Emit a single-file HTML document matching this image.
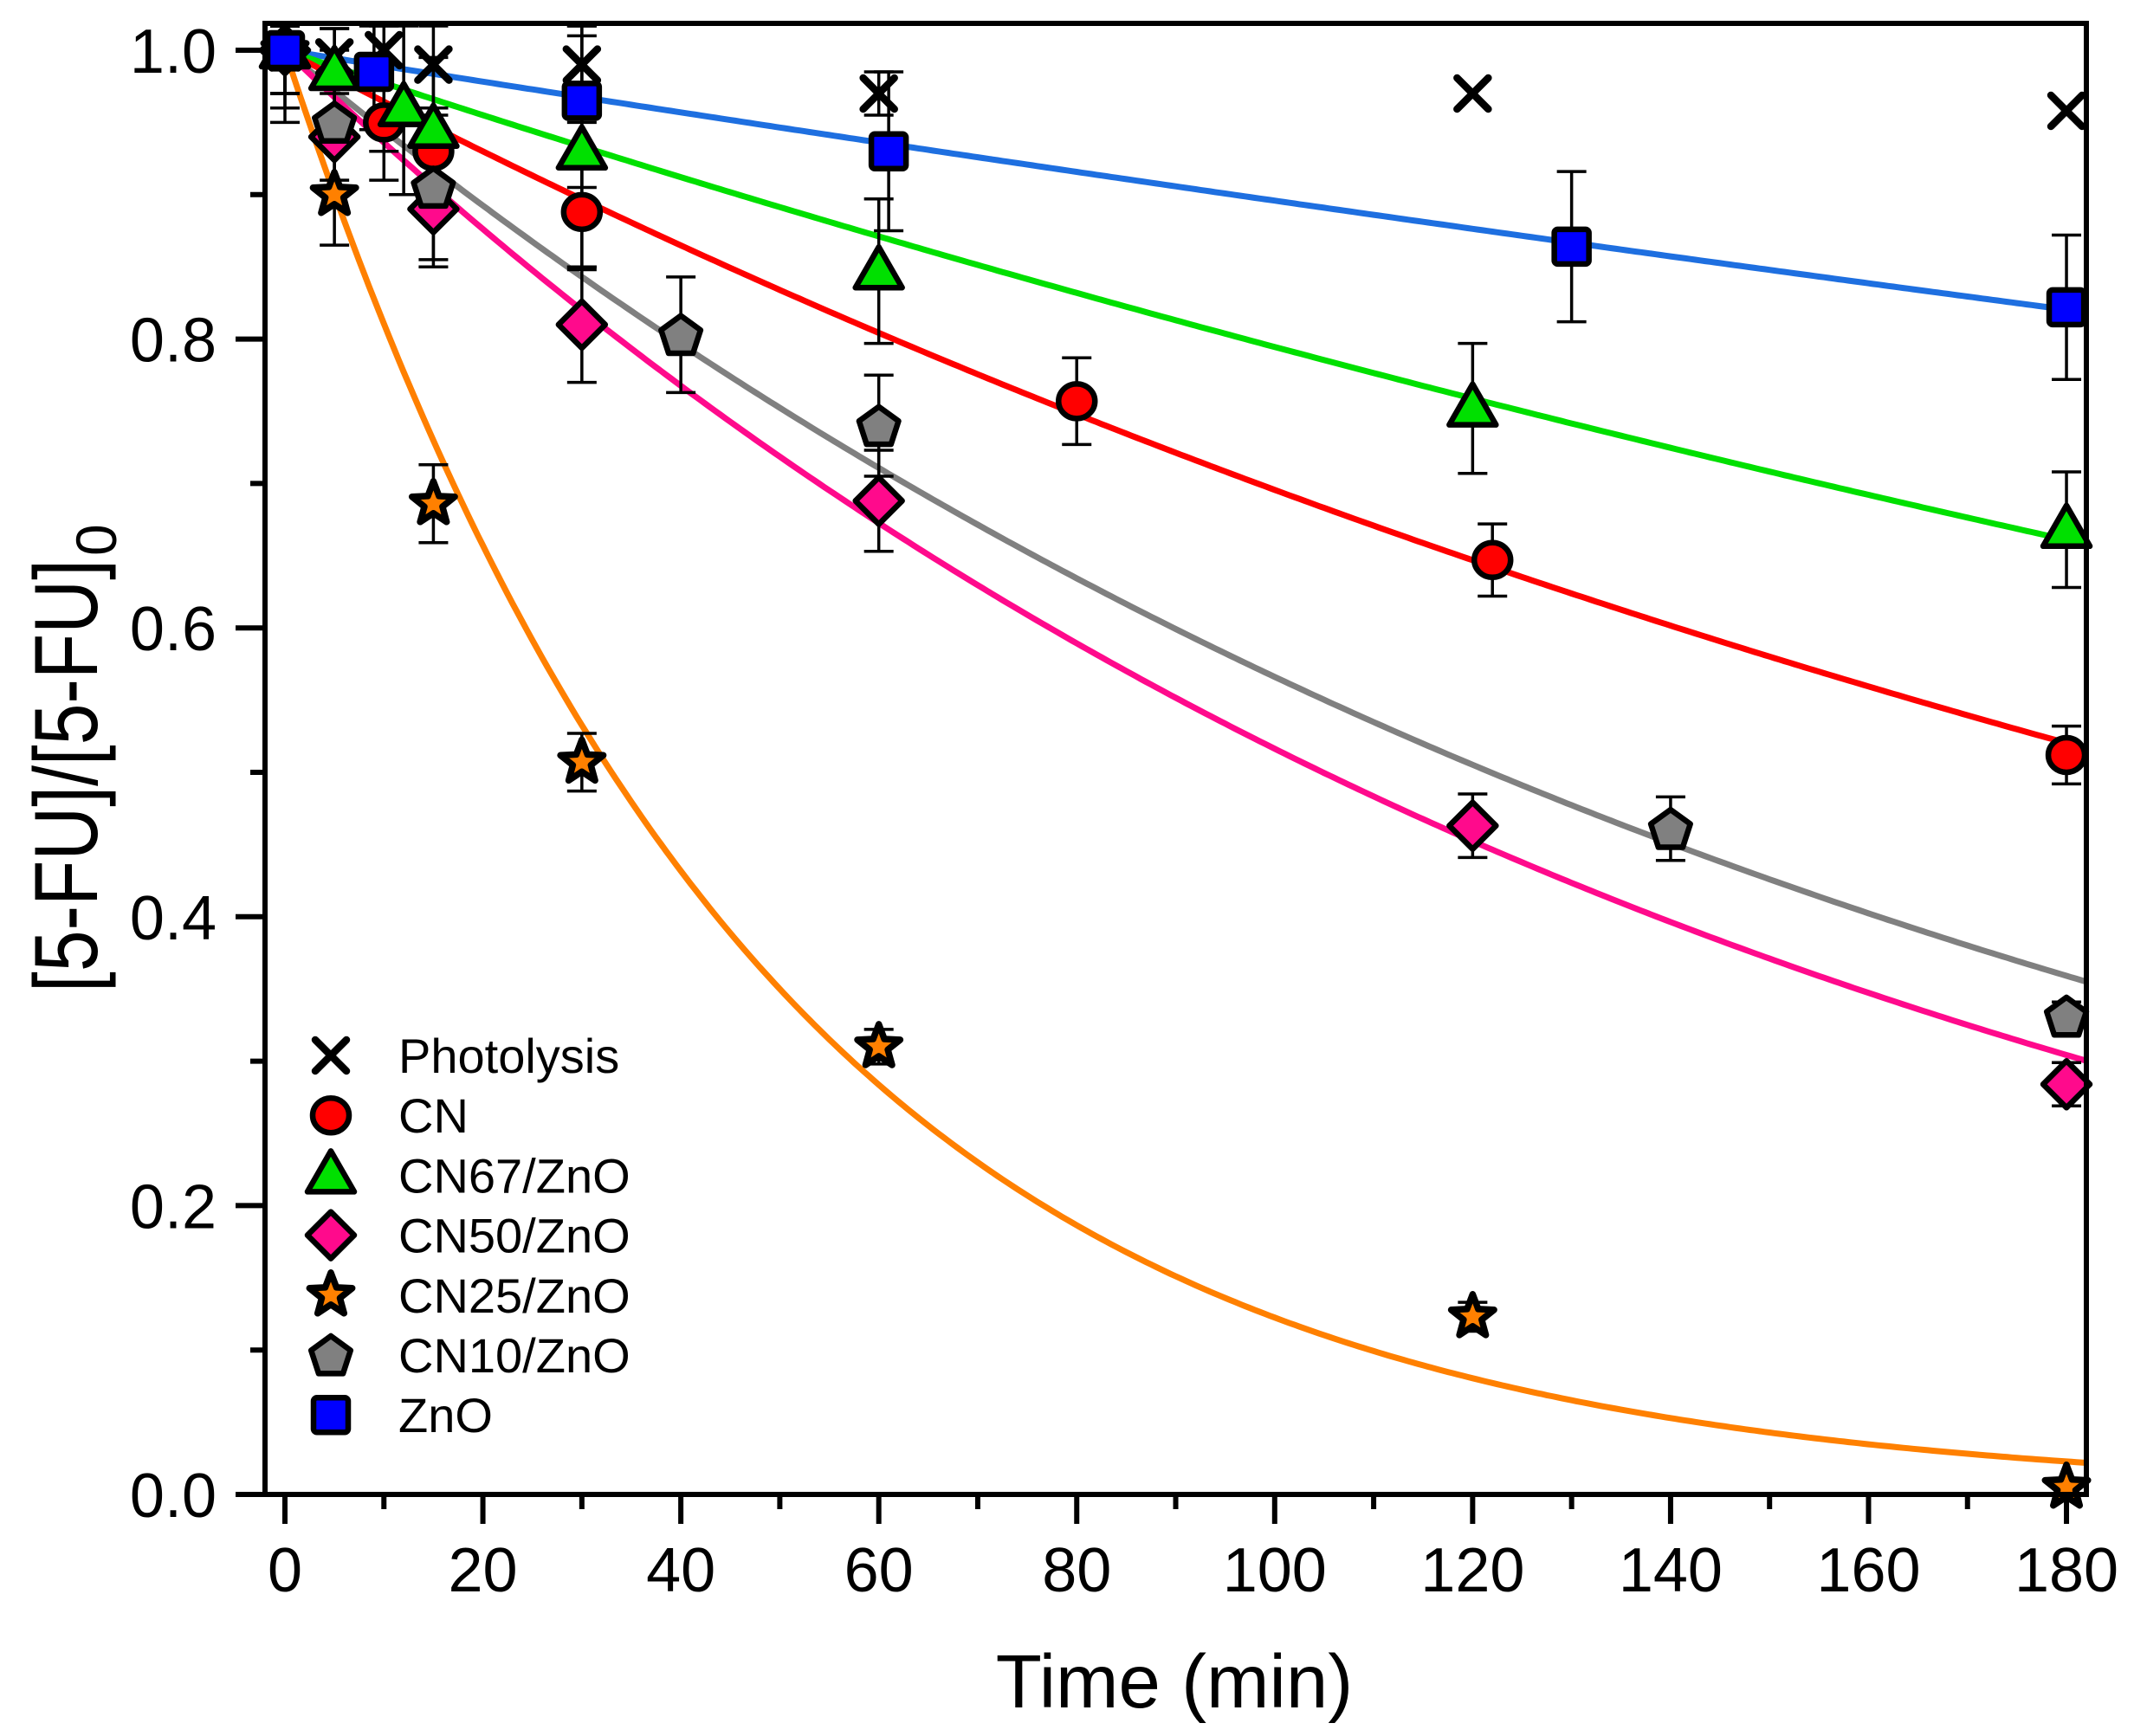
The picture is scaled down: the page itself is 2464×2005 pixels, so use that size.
<!DOCTYPE html>
<html><head><meta charset="utf-8"><style>
html,body{margin:0;padding:0;background:#fff;}
svg{display:block;}
text{font-family:"Liberation Sans",Arial,sans-serif;fill:#000;}
</style></head><body>
<svg id="s" width="2464" height="2005" viewBox="0 0 2464 2005" xmlns="http://www.w3.org/2000/svg">
<rect width="2464" height="2005" fill="#fff"/>
<g id="curves"></g>
<g id="errs"></g>
<g id="marks"></g>
<g id="axes"></g>
<g id="legend"></g>
<text x="1356" y="1972" font-size="87" text-anchor="middle">Time (min)</text>
<g transform="translate(112,1146) rotate(-90)">
<text x="0" y="0" font-size="104" textLength="500" lengthAdjust="spacingAndGlyphs">[5-FU]/[5-FU]</text>
<text x="504" y="22" font-size="66">0</text>
</g>
</svg>
<script>
var NS="http://www.w3.org/2000/svg";
function X(t){return 329+t*11.428;}
function Y(v){return 1726-v*1668;}
function el(p,tag,a){var e=document.createElementNS(NS,tag);for(var k in a)e.setAttribute(k,a[k]);document.getElementById(p).appendChild(e);return e;}
var fits=[["#1e6fe0",0.0011],["#00e000",0.0023],["#ff0000",0.00363],["#808080",0.00569],["#ff0a8c",0.00661],["#ff8000",0.021]];
fits.forEach(function(f){var pts=[];for(var t=0;t<=182.1;t+=0.5){pts.push(X(t).toFixed(1)+","+Y(Math.exp(-f[1]*t)).toFixed(1));}
el("curves","polyline",{points:pts.join(" "),fill:"none",stroke:f[0],"stroke-width":7});});
var S={
x:[[0,1,0.05],[5,0.995,0.02],[10,1.0,0.07],[15,0.99,0.03],[30,0.99,0.04],[60,0.97,0.015],[120,0.97,0],[180,0.958,0]],
o:[[0,1,0.03],[10,0.95,0.04],[15,0.93,0.03],[30,0.888,0.04],[80,0.757,0.03],[122,0.647,0.025],[180,0.512,0.02]],
t:[[0,1,0.04],[5,0.985,0.03],[12,0.96,0.06],[15,0.945,0.05],[30,0.93,0.08],[60,0.847,0.05],[120,0.752,0.045],[180,0.668,0.04]],
d:[[0,1,0.03],[5,0.94,0.03],[15,0.89,0.04],[30,0.81,0.04],[60,0.688,0.035],[120,0.463,0.022],[180,0.284,0.015]],
s:[[0,1,0.03],[5,0.9,0.035],[15,0.686,0.027],[30,0.507,0.02],[60,0.31,0.012],[120,0.123,0.01],[180,0.005,0.005]],
p:[[0,1,0.03],[5,0.95,0.05],[15,0.905,0.05],[40,0.803,0.04],[60,0.74,0.035],[140,0.461,0.022],[180,0.331,0.01]],
q:[[0,1,0.03],[9,0.985,0.04],[30,0.965,0.06],[61,0.93,0.055],[130,0.864,0.052],[180,0.822,0.05]]
};
function marker(g,type,cx,cy){
 var sw=6.5;
 if(type=="x"){var r=18;el(g,"path",{d:"M"+(cx-r)+","+(cy-r)+"L"+(cx+r)+","+(cy+r)+"M"+(cx-r)+","+(cy+r)+"L"+(cx+r)+","+(cy-r),stroke:"#000","stroke-width":8.5,"stroke-linecap":"round"});}
 else if(type=="o"){el(g,"ellipse",{cx:cx,cy:cy,rx:21,ry:20,fill:"#ff0000",stroke:"#000","stroke-width":sw});}
 else if(type=="t"){el(g,"polygon",{points:cx+","+(cy-28)+" "+(cx+27)+","+(cy+19)+" "+(cx-27)+","+(cy+19),fill:"#00e000",stroke:"#000","stroke-width":sw,"stroke-linejoin":"round"});}
 else if(type=="d"){el(g,"polygon",{points:cx+","+(cy-27)+" "+(cx+27)+","+cy+" "+cx+","+(cy+27)+" "+(cx-27)+","+cy,fill:"#ff0a8c",stroke:"#000","stroke-width":sw,"stroke-linejoin":"round"});}
 else if(type=="s"){var p=[];for(var i=0;i<10;i++){var r=i%2?11:26;var a=-Math.PI/2+i*Math.PI/5;p.push((cx+r*Math.cos(a)).toFixed(1)+","+(cy+r*Math.sin(a)).toFixed(1));}
   el(g,"polygon",{points:p.join(" "),fill:"#ff8000",stroke:"#000","stroke-width":7.5,"stroke-linejoin":"round"});}
 else if(type=="p"){var p=[];for(var i=0;i<5;i++){var a=-Math.PI/2+i*2*Math.PI/5;p.push((cx+24*Math.cos(a)).toFixed(1)+","+(cy+2+24*Math.sin(a)).toFixed(1));}
   el(g,"polygon",{points:p.join(" "),fill:"#808080",stroke:"#000","stroke-width":sw,"stroke-linejoin":"round"});}
 else if(type=="q"){el(g,"rect",{x:cx-20,y:cy-20,width:40,height:40,rx:4,fill:"#0000ff",stroke:"#000","stroke-width":sw});}
}
["x","o","t","d","s","p","q"].forEach(function(k){S[k].forEach(function(d){
 var cx=X(d[0]),cy=Y(d[1]);
 if(d[2]>0){var y1=Math.max(Y(d[1]+d[2]),30),y2=Y(d[1]-d[2]);
  el("errs","path",{d:"M"+cx+","+y1+"V"+y2+"M"+(cx-17)+","+y1+"H"+(cx+17)+"M"+(cx-17)+","+y2+"H"+(cx+17),stroke:"#000","stroke-width":3.5,fill:"none"});}
 marker("marks",k,cx,cy);
});});
el("axes","rect",{x:306,y:27,width:2103,height:1699,fill:"none",stroke:"#000","stroke-width":6});
for(var t=0;t<=180;t+=10){var x=X(t);var maj=t%20==0;
 el("axes","line",{x1:x,y1:1726,x2:x,y2:maj?1760:1743,stroke:"#000","stroke-width":6});
 if(maj){var tx=el("axes","text",{x:x,y:1838,"font-size":72,"text-anchor":"middle"});tx.textContent=t;}}
for(var i=0;i<=10;i++){var v=i/10,y=Y(v),maj=i%2==0;
 el("axes","line",{x1:306,y1:y,x2:maj?272:289,y2:y,stroke:"#000","stroke-width":6});
 if(maj){var ty=el("axes","text",{x:250,y:y+26,"font-size":72,"text-anchor":"end"});ty.textContent=v.toFixed(1);}}
var L=[["x","Photolysis"],["o","CN"],["t","CN67/ZnO"],["d","CN50/ZnO"],["s","CN25/ZnO"],["p","CN10/ZnO"],["q","ZnO"]];
L.forEach(function(l,i){var cy=1219+i*69.2;marker("legend",l[0],382,cy);
 var tt=el("legend","text",{x:460,y:cy+20,"font-size":56});tt.textContent=l[1];});
</script>
</body></html>
